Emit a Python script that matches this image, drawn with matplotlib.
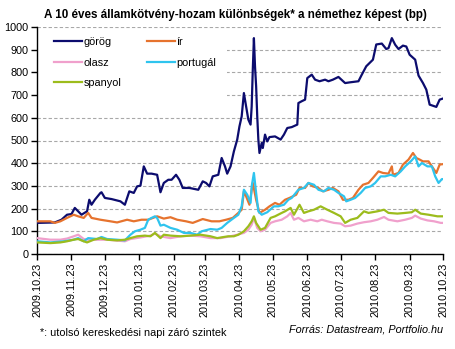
import numpy as np
import pandas as pd
import matplotlib
matplotlib.use('Agg')
import matplotlib.pyplot as plt
from matplotlib.patches import Rectangle

plt.rcParams['font.family'] = ['Liberation Sans', 'DejaVu Sans']

start = pd.Timestamp('2009-10-23')
tick_dates = pd.date_range('2009-10-01', periods=13, freq='MS') + pd.Timedelta(days=22)
tick_labels = [d.strftime('%Y.%m.%d') for d in tick_dates]

# day offsets from 2009.10.23 and spread values (bp)
greek_days = [0, 16, 22, 27, 31, 34, 37, 40, 45, 47, 49, 52, 57, 58, 61, 67, 75, 79, 83, 87,
              90, 93, 96, 99, 103, 108, 111, 114, 118, 121, 125, 128, 131, 137, 145, 149, 152, 155,
              158, 163, 166, 169, 171, 174, 177, 180, 182, 184, 186, 188, 190, 192, 193, 194, 195,
              196, 197, 198, 199, 200, 202, 203, 205, 207, 209, 214, 219, 222, 225, 229, 234, 235,
              238, 241, 243, 247, 250, 254, 259, 262, 266, 271, 277, 281, 289, 292, 296, 302, 305,
              310, 314, 316, 319, 322, 325, 329, 332, 335, 340, 343, 347, 350, 353, 356, 359, 362, 365]
greek = [137, 139, 151, 173, 176, 203, 188, 173, 188, 239, 217, 239, 269, 272, 247, 242, 232, 217, 276, 269,
         298, 301, 386, 354, 354, 349, 272, 313, 327, 327, 349, 327, 291, 291, 283, 320, 313, 298,
         342, 349, 423, 386, 354, 386, 452, 504, 562, 606, 709, 650, 592, 570, 650, 812, 951,
         826, 739, 606, 504, 445, 489, 467, 526, 496, 515, 518, 504, 526, 555, 559, 570, 665,
         673, 680, 775, 790, 768, 761, 768, 761, 768, 780, 753, 756, 761, 790, 827, 856, 923,
         927, 903, 907, 951, 922, 903, 918, 914, 878, 856, 786, 753, 724, 658, 653, 648, 680, 685]

irish_days = [0, 12, 16, 21, 27, 33, 37, 42, 46, 49, 57, 66, 72, 81, 87, 94, 100, 108, 114, 120,
              126, 134, 140, 149, 157, 164, 170, 176, 181, 184, 186, 188, 191, 194, 197, 200, 205,
              209, 214, 218, 223, 227, 233, 236, 241, 244, 248, 253, 257, 262, 266, 271, 275, 280,
              284, 289, 293, 298, 302, 307, 311, 316, 319, 320, 325, 329, 334, 338, 341, 344, 347,
              352, 356, 359, 362, 365]
irish = [144, 144, 137, 144, 159, 173, 166, 159, 181, 159, 151, 144, 139, 151, 144, 151, 151, 166, 156, 162,
         151, 144, 137, 154, 144, 144, 151, 159, 181, 195, 276, 254, 217, 313, 239, 181, 195,
         210, 225, 217, 239, 247, 261, 291, 291, 313, 298, 291, 276, 283, 291, 276, 239, 239,
         247, 283, 305, 313, 335, 364, 357, 354, 386, 349, 357, 394, 416, 445, 423, 416, 408,
         408, 379, 357, 394, 396]

italy_days = [0, 12, 21, 27, 33, 37, 42, 46, 54, 63, 72, 79, 84, 93, 102, 106, 111, 120, 129, 138,
              147, 156, 165, 174, 180, 186, 190, 193, 195, 198, 201, 205, 210, 214, 220, 225, 228,
              231, 235, 240, 246, 252, 256, 261, 267, 273, 277, 282, 288, 294, 300, 306, 312, 316,
              324, 331, 337, 340, 345, 351, 357, 363, 365]
italy = [70, 63, 63, 68, 78, 85, 66, 63, 63, 63, 59, 56, 66, 73, 81, 90, 78, 70, 78, 81,
         78, 70, 70, 78, 85, 93, 107, 129, 159, 115, 100, 107, 137, 144, 151, 166, 181,
         151, 159, 144, 151, 144, 151, 144, 137, 134, 122, 125, 134, 140, 144, 151, 163, 151,
         144, 151, 159, 169, 156, 148, 144, 137, 137]

portugal_days = [0, 12, 24, 33, 37, 42, 46, 54, 58, 63, 72, 79, 84, 88, 93, 97, 100, 103, 106, 108,
                 111, 114, 120, 126, 132, 138, 144, 148, 156, 162, 166, 171, 177, 181, 184, 186,
                 189, 192, 193, 195, 197, 199, 202, 207, 213, 217, 222, 226, 229, 235, 240, 244,
                 249, 253, 258, 262, 267, 271, 276, 278, 282, 286, 291, 295, 300, 304, 309, 313,
                 318, 322, 327, 331, 336, 340, 343, 346, 351, 355, 358, 361, 364, 365]
portugal = [56, 51, 56, 63, 70, 56, 70, 66, 75, 66, 63, 60, 85, 100, 107, 115, 151, 159, 166, 159,
            125, 129, 115, 107, 93, 93, 85, 100, 110, 107, 115, 137, 159, 173, 210, 283,
            261, 225, 298, 357, 269, 188, 173, 184, 210, 210, 217, 239, 247, 283, 291, 313,
            305, 283, 276, 291, 283, 269, 254, 232, 239, 247, 269, 291, 298, 313, 342, 342,
            349, 342, 364, 386, 408, 430, 386, 401, 386, 386, 342, 313, 330, 330]

spain_days = [0, 12, 21, 27, 33, 37, 42, 45, 51, 57, 63, 72, 79, 84, 90, 97, 102, 106, 111, 114,
              120, 129, 138, 147, 156, 162, 168, 172, 177, 181, 186, 190, 193, 195, 197, 201, 205,
              210, 214, 220, 223, 228, 231, 236, 240, 244, 249, 255, 261, 267, 273, 277, 282, 288,
              294, 298, 306, 312, 316, 324, 331, 337, 340, 345, 352, 360, 365]
spain = [51, 48, 51, 56, 63, 66, 56, 51, 63, 70, 63, 60, 63, 70, 78, 81, 78, 93, 70, 85,
         81, 78, 81, 85, 78, 70, 75, 78, 78, 85, 100, 122, 144, 166, 137, 107, 115,
         159, 166, 181, 188, 203, 173, 217, 181, 188, 195, 210, 195, 181, 166, 137, 151, 159,
         188, 181, 188, 195, 181, 178, 181, 184, 195, 178, 173, 166, 166]

series = [
    ('görög', greek_days, greek, '#0c0c6e'),
    ('ír', irish_days, irish, '#e6732e'),
    ('olasz', italy_days, italy, '#f0a0cc'),
    ('portugál', portugal_days, portugal, '#2fc4ee'),
    ('spanyol', spain_days, spain, '#9cbc1c'),
]

fig = plt.figure(figsize=(4.56, 3.49), dpi=100)
ax = fig.add_axes([37 / 456, 1 - 254 / 349, 406 / 456, 227 / 349])

lines = {}
for name, days, vals, col in series:
    dates = start + pd.to_timedelta(np.array(days), unit='D')
    lines[name], = ax.plot(dates, vals, color=col, lw=1.6, label=name, zorder=3)

ax.set_ylim(0, 1000)
ax.set_yticks(np.arange(0, 1001, 100))
ax.set_xlim(tick_dates[0], tick_dates[-1])
ax.set_xticks(tick_dates)
ax.set_xticklabels(tick_labels, rotation=90, va='top', ha='center')
ax.tick_params(axis='both', labelsize=7.8, direction='out', length=4, width=1, pad=2, colors='black')
ax.grid(axis='y', color='#a8a8a8', linestyle=(0, (3, 2)), linewidth=0.8)
ax.set_axisbelow(True)
for s in ['top', 'right']:
    ax.spines[s].set_visible(False)
for s in ['left', 'bottom']:
    ax.spines[s].set_linewidth(1)

# white area behind the legend hides the gridlines there
ax.add_patch(Rectangle((0.003, 0.66), 0.465, 0.325, transform=ax.transAxes,
                       facecolor='white', edgecolor='none', zorder=1.5))
# column-major order so rows read: görög ír / olasz portugál / spanyol
order = ['görög', 'olasz', 'spanyol', 'ír', 'portugál']
ax.legend([lines[n] for n in order], order, loc='upper left', bbox_to_anchor=(0.042, 0.955),
          ncol=2, frameon=False, fontsize=7.8, handlelength=2.6, handletextpad=0.1,
          columnspacing=2.4, labelspacing=0.95, borderpad=0, borderaxespad=0)

fig.text(0.516, 1 - 15 / 349, 'A 10 éves államkötvény-hozam különbségek* a némethez képest (bp)',
         ha='center', va='center', fontsize=8.4, fontweight='bold')
fig.text(40 / 456, 1 - 333 / 349, '*: utolsó kereskedési napi záró szintek',
         ha='left', va='center', fontsize=7.8)
fig.text(443 / 456, 1 - 330 / 349, 'Forrás: Datastream, Portfolio.hu',
         ha='right', va='center', fontsize=7.8, style='italic')

fig.savefig('out.png', dpi=100)
